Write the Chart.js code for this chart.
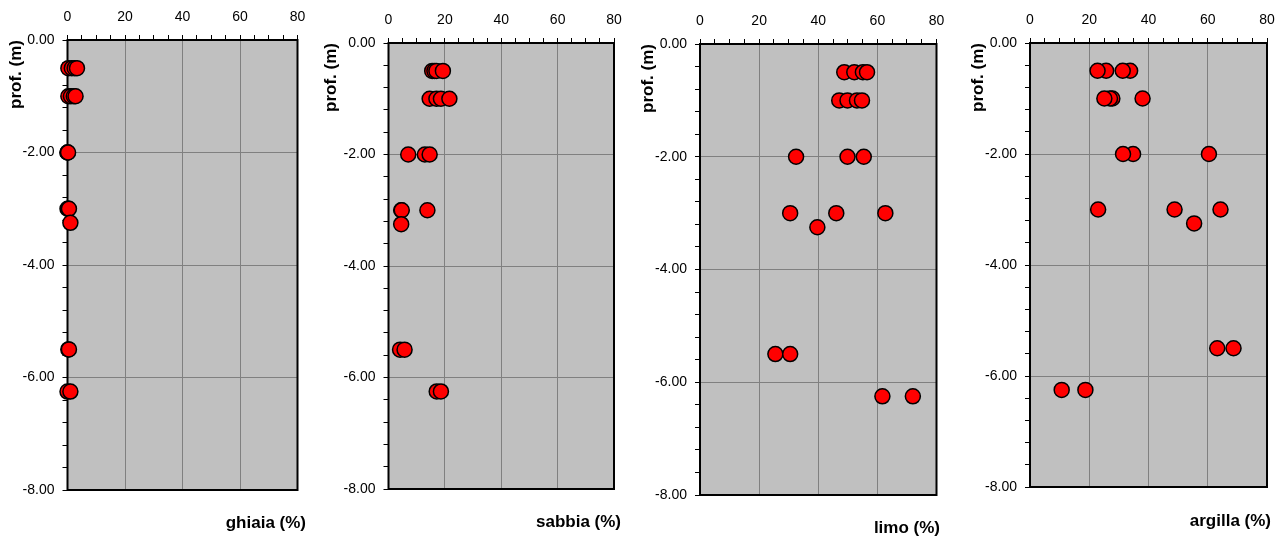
<!DOCTYPE html>
<html>
<head>
<meta charset="utf-8">
<script src="https://cdn.jsdelivr.net/npm/chart.js@4.4.1/dist/chart.umd.min.js"></script>
<style>
  html, body { margin: 0; padding: 0; background: #fff; }
  body { width: 1282px; height: 539px; position: relative; overflow: hidden; }
  .panel { position: absolute; top: 0; height: 539px; }
</style>
</head>
<body>
<div class="panel" id="p1"><canvas id="c1"></canvas></div>
<div class="panel" id="p2"><canvas id="c2"></canvas></div>
<div class="panel" id="p3"><canvas id="c3"></canvas></div>
<div class="panel" id="p4"><canvas id="c4"></canvas></div>
<script>
/* =====================================================
   DATA (one entry per sample)
===================================================== */
const depth   = [-0.5, -0.5, -0.5, -0.5, -1, -1, -1, -1, -2, -2, -2, -3, -3, -3, -3.25, -5.5, -5.5, -6.25, -6.25];
const ghiaia  = [0.3, 1.5, 2.5, 3.3, 0.3, 1.2, 2.2, 2.8, 0, 0, 0.2, 0, 0.3, 0.5, 1.0, 0.3, 0.5, 0, 1.0];
const sabbia  = [15.5, 16.3, 17.0, 19.3, 14.6, 17.0, 18.6, 21.6, 7.0, 12.9, 14.6, 4.5, 4.7, 13.8, 4.5, 4.1, 5.7, 17.1, 18.6];
const limo    = [48.8, 52.2, 55.1, 56.5, 47.1, 49.9, 53.1, 54.8, 32.5, 49.9, 55.4, 30.5, 46.1, 62.7, 39.7, 25.5, 30.5, 61.7, 72.0];
const argilla = [33.8, 31.3, 25.7, 22.8, 38.0, 27.8, 27.0, 25.1, 60.4, 34.8, 31.4, 64.3, 48.8, 23.0, 55.4, 68.7, 63.2, 18.7, 10.7];

const xTitles = ["ghiaia (%)", "sabbia (%)", "limo (%)", "argilla (%)"];
const yTitle = "prof. (m)";
const xRange = [0, 80];
const yRange = [-8, 0];

/* =====================================================
   LAYOUT (page pixels)
===================================================== */
const layout = [
  { el: "p1", canvas: "c1", left: 0,   plotLeft: 67.5,  plotRight: 297.5, titleRight: 306,  top: 40, bottom: 490, titleY: 523 },
  { el: "p2", canvas: "c2", left: 315, plotLeft: 388.5, plotRight: 614,   titleRight: 621,  top: 43, bottom: 489, titleY: 522 },
  { el: "p3", canvas: "c3", left: 632, plotLeft: 700,   plotRight: 936.5, titleRight: 940,  top: 44, bottom: 495, titleY: 528 },
  { el: "p4", canvas: "c4", left: 962, plotLeft: 1030,  plotRight: 1267,  titleRight: 1271, top: 43, bottom: 487, titleY: 521 }
];
const series = [ghiaia, sabbia, limo, argilla];
const EXTRA_RIGHT = 11;   // room so the "80" label is not cut off

Chart.defaults.font.family = "'Liberation Sans', Arial, sans-serif";
Chart.defaults.color = "#000";

/* plot background + black frame */
const framePlugin = {
  id: "frame",
  beforeDraw(chart) {
    const a = chart.chartArea, ctx = chart.ctx;
    ctx.save();
    ctx.fillStyle = "#c0c0c0";
    ctx.fillRect(a.left, a.top, a.right - a.left, a.bottom - a.top);
    ctx.restore();
  },
  beforeDatasetsDraw(chart) {
    const a = chart.chartArea, ctx = chart.ctx;
    ctx.save();
    ctx.strokeStyle = "#000";
    ctx.lineWidth = 2;
    ctx.strokeRect(a.left, a.top, a.right - a.left, a.bottom - a.top);
    ctx.restore();
  }
};

const TITLE_LH = 17 * 1.2;

layout.forEach((p, i) => {
  const box = document.getElementById(p.el);
  box.style.left = p.left + "px";
  box.style.width = (p.titleRight - p.left + EXTRA_RIGHT) + "px";

  const padTop = p.titleY - p.bottom - TITLE_LH / 2;
  const padBottom = (539 - p.bottom) - TITLE_LH - padTop;

  new Chart(document.getElementById(p.canvas), {
    type: "scatter",
    data: {
      datasets: [{
        data: series[i].map((v, k) => ({ x: v, y: depth[k] })),
        backgroundColor: "#ff0000",
        borderColor: "#000",
        borderWidth: 1.5,
        pointRadius: 7.5,
        pointHoverRadius: 7.5,
        clip: false
      }]
    },
    options: {
      responsive: true,
      maintainAspectRatio: false,
      animation: false,
      layout: { padding: { left: 0, top: 0, bottom: 0, right: EXTRA_RIGHT }, autoPadding: false },
      plugins: {
        legend: { display: false },
        tooltip: { enabled: false },
        title: {
          display: true,
          text: xTitles[i],
          position: "bottom",
          align: "end",
          color: "#000",
          font: { size: 17, weight: "bold" },
          padding: { top: padTop, bottom: Math.max(0, padBottom) }
        }
      },
      scales: {
        x: {
          type: "linear",
          position: "top",
          min: xRange[0],
          max: xRange[1],
          border: { display: false },
          grid: {
            color: c => (c.tick && c.tick.value % 20 === 0 && c.tick.value > 0 && c.tick.value < 80) ? "#808080" : "rgba(0,0,0,0)",
            tickColor: "#000",
            tickLength: 5,
            lineWidth: 1
          },
          ticks: {
            stepSize: 5,
            autoSkip: false,
            maxRotation: 0,
            padding: 9,
            font: { size: 14 },
            callback: v => (v % 20 === 0 ? String(v) : "")
          },
          afterFit: s => {
            s.height = p.top;
            s.paddingLeft = 0;
            s.paddingRight = 0;
          }
        },
        y: {
          type: "linear",
          position: "left",
          min: yRange[0],
          max: yRange[1],
          border: { display: false },
          grid: {
            color: c => {
              if (!c.tick) return "rgba(0,0,0,0)";
              const t = Math.round(c.tick.value * 10);
              return (t % 20 === 0 && t !== 0 && t !== -80) ? "#808080" : "rgba(0,0,0,0)";
            },
            tickColor: "#000",
            tickLength: 5,
            lineWidth: 1
          },
          ticks: {
            stepSize: 0.4,
            autoSkip: false,
            padding: 8,
            font: { size: 14 },
            callback: v => (Math.round(v * 10) % 20 === 0 ? Number(v).toFixed(2) : "")
          },
          title: {
            display: true,
            text: yTitle,
            align: "end",
            color: "#000",
            font: { size: 17, weight: "bold" },
            padding: { top: 6, bottom: 0 }
          },
          afterFit: s => {
            s.width = p.plotLeft - p.left;
            s.paddingTop = 0;
            s.paddingBottom = 0;
          }
        },
        y2: {
          type: "linear",
          position: "right",
          display: true,
          border: { display: false },
          grid: { display: false },
          ticks: { display: false },
          afterFit: s => {
            s.width = p.titleRight - p.plotRight;
            s.paddingTop = 0;
            s.paddingBottom = 0;
          }
        }
      }
    },
    plugins: [framePlugin]
  });
});
</script>
</body>
</html>
